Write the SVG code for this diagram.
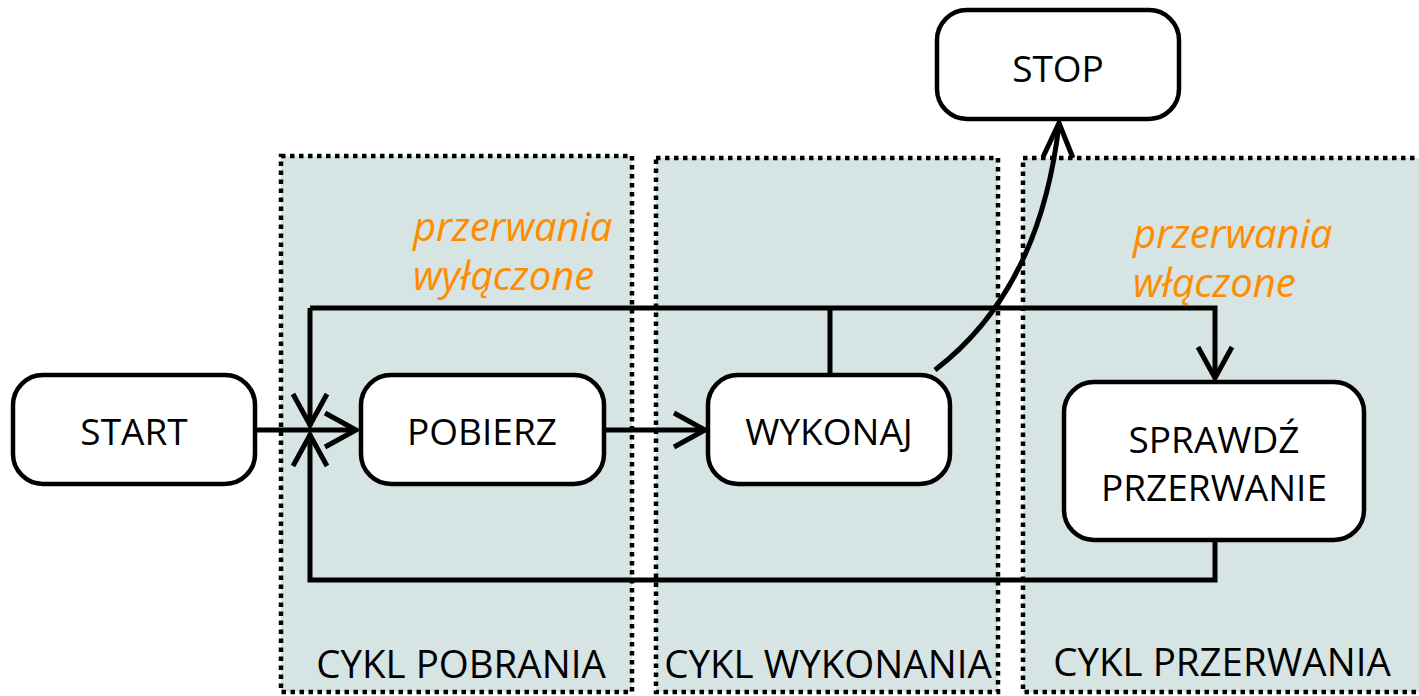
<svg xmlns="http://www.w3.org/2000/svg" width="1419" height="696" viewBox="0 0 1419 696">
<style>
.zone{fill:#d6e4e4;stroke:#000;stroke-width:4.5;stroke-dasharray:4.5 4.5}
.node{fill:#fff;stroke:#000;stroke-width:4.5}
.t{font-family:"Open Sans","Noto Sans",sans-serif;font-size:37px;fill:#000;text-anchor:middle}
.b{font-size:38.5px}
.o{font-family:"Open Sans","Noto Sans",sans-serif;font-size:40px;fill:#ff8c00;font-style:italic}
.c{fill:none;stroke:#000;stroke-width:5}
.ah{fill:none;stroke:#000;stroke-width:5;stroke-linejoin:miter}
</style>
<rect width="1419" height="696" fill="#fff"/>
<g id="zone-pobrania">
<rect class="zone" x="281" y="156" width="351" height="536"/>
<text class="t b" x="461" y="678">CYKL POBRANIA</text>
</g>
<g id="zone-wykonania">
<rect class="zone" x="656" y="158" width="342" height="534"/>
<text class="t b" x="828" y="678">CYKL WYKONANIA</text>
</g>
<g id="zone-przerwania">
<rect class="zone" x="1023" y="158" width="420" height="534"/>
<text class="t b" x="1222" y="676">CYKL PRZERWANIA</text>
</g>
<text class="o" x="413" y="241">przerwania</text>
<text class="o" x="413" y="290">wyłączone</text>
<text class="o" x="1133" y="248">przerwania</text>
<text class="o" x="1133" y="297">włączone</text>
<g id="connectors">
<path class="c" d="M255 430 H356"/>
<path class="ah" d="M325 413 L356 430 L325 447"/>
<path class="c" d="M604 430 H705"/>
<path class="ah" d="M674 413 L705 430 L674 447"/>
<path class="c" d="M830 373 V308 M310 308 H1215 V378"/>
<path class="ah" d="M1198 347 L1215 378 L1232 347"/>
<path class="c" d="M310 308 V426"/>
<path class="ah" d="M293 394 L310 425 L327 394"/>
<path class="c" d="M1215 541 V580 H310 V434"/>
<path class="ah" d="M293 466 L310 435 L327 466"/>
<path class="c" d="M935 370 Q1040 290 1059 124"/>
<path class="ah" d="M1043 157 L1059 123 L1073 158"/>
</g>
<g id="start">
<rect class="node" x="13" y="375" width="242" height="109" rx="30"/>
<text class="t" x="134" y="445">START</text>
</g>
<g id="pobierz">
<rect class="node" x="361" y="375" width="243" height="109" rx="30"/>
<text class="t" x="482" y="445">POBIERZ</text>
</g>
<g id="wykonaj">
<rect class="node" x="708" y="375" width="242" height="109" rx="30"/>
<text class="t" x="829" y="445">WYKONAJ</text>
</g>
<g id="sprawdz">
<rect class="node" x="1064" y="382" width="300" height="158" rx="30"/>
<text class="t" x="1214" y="453">SPRAWDŹ</text>
<text class="t" x="1214" y="501">PRZERWANIE</text>
</g>
<g id="stop">
<rect class="node" x="937" y="10" width="242" height="109" rx="30"/>
<text class="t" x="1058" y="82">STOP</text>
</g>
</svg>
